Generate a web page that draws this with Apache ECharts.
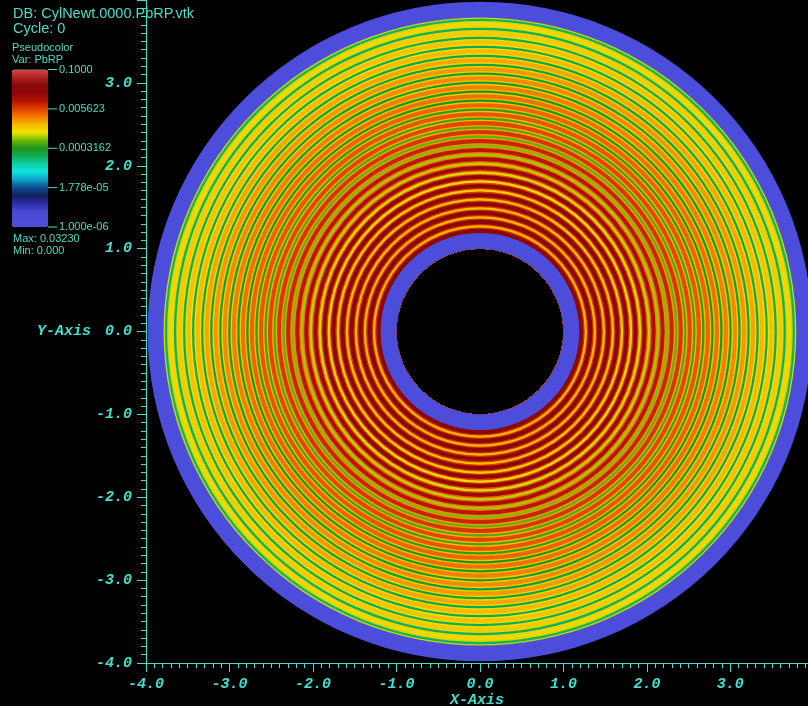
<!DOCTYPE html>
<html>
<head>
<meta charset="utf-8">
<script src="https://cdn.jsdelivr.net/npm/echarts@6/dist/echarts.min.js"></script>
<style>
  html, body { margin: 0; padding: 0; background: #000; }
  #chart { width: 808px; height: 706px; }
</style>
</head>
<body>
<div id="chart"></div>
<script>
// Cylinder cross-section: radial PbRP profile between two walls (PbRP = 0 in the walls)
const holeRadius = 1.0;
const innerWall = [1.0, 1.19];
const outerWall = [3.79, 3.98];

// Start radius of each concentric ring (the last ring ends at the outer wall)
const ringStart = [1.190, 1.298, 1.407, 1.515, 1.623, 1.732, 1.840, 1.948, 2.057, 2.165, 2.273, 2.382,
                   2.490, 2.598, 2.707, 2.815, 2.923, 3.032, 3.140, 3.248, 3.357, 3.465, 3.573, 3.682];
// PbRP in the broad band of each ring
const mainValue = [0.0323, 0.0310, 0.0295, 0.0275, 0.0250, 0.0220, 0.0185, 0.0150, 0.0120, 0.0095, 0.0078, 0.0064,
                   0.0053, 0.0045, 0.0039, 0.0034, 0.0030, 0.0027, 0.0024, 0.0021, 0.0018, 0.0016, 0.0014, 0.0012];
// PbRP on the shoulders either side of the thin line
const edgeValue = [0.0070, 0.0068, 0.0066, 0.0064, 0.0060, 0.0056, 0.0046, 0.0038, 0.0032, 0.0027, 0.0023, 0.0020,
                   0.0018, 0.0017, 0.0016, 0.0015, 0.0014, 0.0013, 0.0012, 0.0011, 0.0010, 0.00095, 0.0009, 0.00085];
// PbRP on the thin line of each ring
const lineValue = [0.0018, 0.0017, 0.0016, 0.0015, 0.0013, 0.0011, 0.0009, 0.0008, 0.0007, 0.0006, 0.0005, 0.00045,
                   0.0004, 0.00036, 0.00032, 0.00029, 0.00026, 0.00024, 0.00022, 0.0002, 0.00019, 0.00018, 0.00017, 0.00016];

// Colour bar
const colorbarTicks = [0.1, 0.005623, 0.0003162, 1.778e-05, 1.0e-06];
const colorbarLabels = ['0.1000', '0.005623', '0.0003162', '1.778e-05', '1.000e-06'];
const dataMax = '0.03230';
const dataMin = '0.000';

const logMin = -6, logMax = -1;
const toLog = v => Math.max(logMin, Math.min(logMax, Math.log10(v)));

// Sub-band layout of one ring, as fractions of its width
const bandLayout = [[0, 0.45, 'main'], [0.45, 0.6, 'edge'], [0.6, 0.85, 'line'], [0.85, 1.0, 'edge']];

const bands = [];
bands.push([outerWall[0], outerWall[1], logMin]);
bands.push([innerWall[0], innerWall[1], logMin]);
ringStart.forEach((r, i) => {
  const rEnd = i + 1 < ringStart.length ? ringStart[i + 1] : outerWall[0];
  const w = rEnd - r;
  const vals = { main: mainValue[i], edge: edgeValue[i], line: lineValue[i] };
  bandLayout.forEach(([f0, f1, k]) => bands.push([r + f0 * w, r + f1 * w, toLog(vals[k])]));
});
// outermost first so each inner disk covers the one beneath it
bands.sort((a, b) => b[1] - a[1]);

const palette = ['#4d4ddb', '#4b4bd8', '#4848d0', '#2c2ca4', '#10205c', '#0c4c90', '#0ca0c8', '#10e4e0',
                 '#10d0a4', '#10ac58', '#1c9418', '#70b808', '#f0e400', '#f8b800', '#f47800', '#e04000',
                 '#b41400', '#900808', '#880808', '#b02424', '#d04848'];

const teal = '#40e0d0';
const textTeal = '#4cdcc8';
const monoFont = { color: teal, fontFamily: 'Liberation Mono', fontWeight: 'bold', fontStyle: 'italic', fontSize: 15 };

const barTop = 69.5, barHeight = 157.5, barLeft = 12, barWidth = 36;
const tickY = v => barTop + barHeight * (logMax - Math.log10(v)) / (logMax - logMin);

const graphics = [
  { type: 'text', left: 13, top: 6, style: { text: 'DB: CylNewt.0000.PbRP.vtk', fill: textTeal, font: '14.5px "Liberation Sans"' } },
  { type: 'text', left: 13, top: 21, style: { text: 'Cycle: 0', fill: textTeal, font: '14.5px "Liberation Sans"' } },
  { type: 'text', left: 12, top: 42, style: { text: 'Pseudocolor', fill: textTeal, font: '11px "Liberation Sans"' } },
  { type: 'text', left: 12, top: 54, style: { text: 'Var: PbRP', fill: textTeal, font: '11px "Liberation Sans"' } },
  { type: 'text', left: 13, top: 233, style: { text: 'Max: ' + dataMax, fill: textTeal, font: '11px "Liberation Sans"' } },
  { type: 'text', left: 13, top: 245, style: { text: 'Min: ' + dataMin, fill: textTeal, font: '11px "Liberation Sans"' } }
];
colorbarTicks.forEach((v, i) => {
  const y = tickY(v);
  graphics.push({ type: 'line', shape: { x1: barLeft + barWidth, y1: y, x2: barLeft + barWidth + 9, y2: y },
                  style: { stroke: textTeal, lineWidth: 1 } });
  graphics.push({ type: 'text', x: barLeft + barWidth + 11, y: y,
                  style: { text: colorbarLabels[i], fill: textTeal, font: '11px "Liberation Sans"', verticalAlign: 'middle' } });
});

const axisCommon = {
  type: 'value',
  interval: 1,
  axisLine: { show: true, onZero: false, lineStyle: { color: teal, width: 1 } },
  axisTick: { show: true, length: 9, lineStyle: { color: teal, width: 1 } },
  minorTick: { show: true, splitNumber: 10, length: 5, lineStyle: { color: teal, width: 1 } },
  splitLine: { show: false },
  minorSplitLine: { show: false },
  axisLabel: Object.assign({ margin: 14, showMaxLabel: false, formatter: v => v.toFixed(1) }, monoFont),
  nameLocation: 'middle',
  nameMoveOverlap: false,
  nameTextStyle: monoFont
};

const chart = echarts.init(document.getElementById('chart'), null, { renderer: 'canvas' });
chart.setOption({
  backgroundColor: '#000',
  animation: false,
  grid: { left: 146, right: 0, top: 0, bottom: 43, containLabel: false, outerBoundsMode: 'none' },
  xAxis: Object.assign({}, axisCommon, { min: -4, max: 3.93, name: 'X-Axis', nameGap: 30 }),
  yAxis: Object.assign({}, axisCommon, { min: -4, max: 4.0, name: 'Y-Axis', nameGap: 55, nameRotate: 0 }),
  visualMap: {
    type: 'continuous', min: logMin, max: logMax, dimension: 2, seriesIndex: 0,
    left: barLeft, top: barTop, itemWidth: barWidth, itemHeight: barHeight, padding: 0,
    calculable: false, text: null, hoverLink: false, showLabel: false,
    inRange: { color: palette }
  },
  series: [{
    type: 'custom',
    coordinateSystem: 'cartesian2d',
    silent: true,
    data: bands,
    encode: { x: [0, 1], y: 2 },
    renderItem: function (params, api) {
      const c = api.coord([0, 0]);
      const unit = api.size([1, 1]);
      return {
        type: 'ring',
        x: c[0], y: c[1],
        scaleY: unit[1] / unit[0],
        shape: { cx: 0, cy: 0, r: api.value(1) * unit[0], r0: holeRadius * unit[0] },
        style: { fill: api.visual('color') }
      };
    }
  }],
  graphic: graphics
});
</script>
</body>
</html>
